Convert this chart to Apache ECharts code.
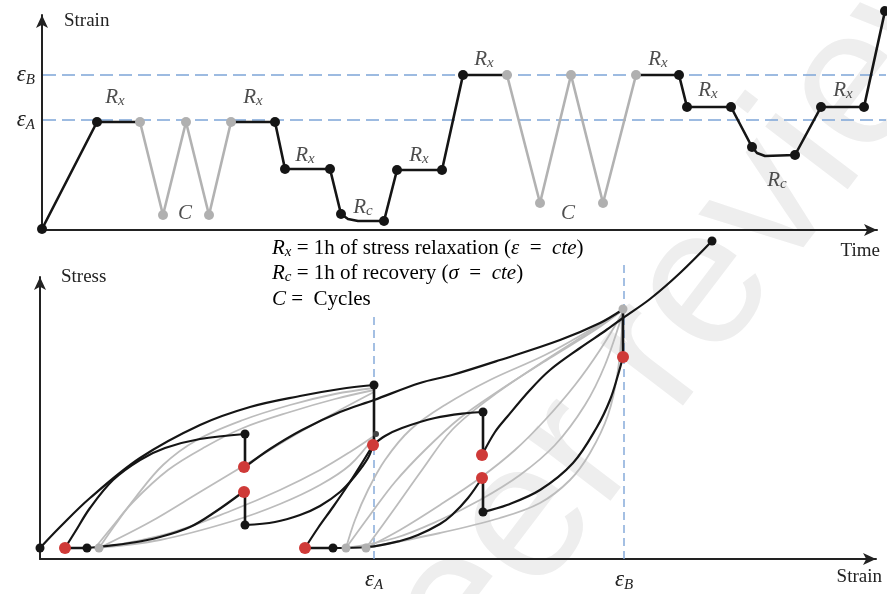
<!DOCTYPE html>
<html><head><meta charset="utf-8">
<script src="https://cdn.jsdelivr.net/npm/echarts@6/dist/echarts.min.js"></script>
<style>html,body{margin:0;padding:0;background:#fff}#c{width:887px;height:594px}</style>
</head><body><div id="c"></div>
<script>
// ===== Top panel: strain vs time =====
const topEpsA = 110, topEpsB = 155;
const topTimeMax = 844;
const loadPath1 = [[0,1],[55,108],[98,108]];
const cyclesAtA = [[98,108],[121,15],[144,108],[167,15],[189,108]];
const loadPath2 = [[189,108],[233,108],[243,61],[288,61],[299,16],[306,11],[316,9],[342,9],[355,60],[400,60],[421,155],[465,155]];
const cyclesAtB = [[465,155],[498,27],[529,155],[561,27],[594,155]];
const loadPath3 = [[594,155],[637,155],[645,123],[689,123],[710,83],[715,77],[723,74],[753,75],[779,123],[822,123],[843,219]];
const topBlackDots = [[0,1],[55,108],[233,108],[243,61],[288,61],[299,16],[342,9],[355,60],[400,60],[421,155],[637,155],[645,123],[689,123],[710,83],[753,75],[779,123],[822,123],[843,219]];
const topGrayDots = [[98,108],[121,15],[144,108],[167,15],[189,108],[465,155],[498,27],[529,155],[561,27],[594,155]];
const topLabels = [[73,133,'Rx'],[211,133,'Rx'],[263,75,'Rx'],[377,75,'Rx'],[442,171,'Rx'],[616,171,'Rx'],[666,140,'Rx'],[801,140,'Rx'],[321,23,'Rc'],[735,50,'Rc'],[143,17,'C'],[526,17,'C']];

// ===== Bottom panel: stress vs strain =====
const botEpsA = 334, botEpsB = 584;
const envelopeA = [[0,11],[20,32],[50,61],[100,101],[160,134],[210,152],[260,163],[300,170],[334,174]];
const reloadB = [[25,11],[35,27],[50,51],[73,79],[100,99],[125,111],[160,120],[205,125]];
const reloadC = [[47,11],[90,16],[120,22],[150,32],[175,47],[203,67]];
const curveD = [[205,92],[230,110],[262,129],[300,147],[334,159],[380,176],[412,184],[460,199],[520,219],[560,236],[582,249]];
const curveE = [[442,104],[455,127],[467,142],[490,169],[510,189],[540,211],[565,228],[583,241],[610,260],[640,286],[672,318]];
const curveF = [[205,34],[235,37],[260,44],[280,53],[300,67],[315,83],[328,101],[333,114]];
const curveH = [[265,11],[278,31],[293,52],[308,74],[322,96],[333,114]];
const curveG = [[333,114],[345,123],[362,131],[395,141],[428,146],[443,147]];
const curveI = [[293,11],[328,12],[360,18],[378,24],[400,35],[412,44],[428,61],[442,81]];
const curveJ = [[443,47],[467,54],[500,69],[533,96],[557,132],[570,159],[578,184],[583,202]];
const relaxSteps = [
  [[205,125],[205,92]], [[205,67],[205,34]], [[334,174],[334,114]],
  [[443,147],[443,104]], [[443,81],[443,47]], [[583,250],[583,202]]
];
const recoverySteps = [[[25,11],[47,11]], [[265,11],[293,11]]];
const cyclesFirst = [
  [[59,11],[75,34],[95,61],[123,94],[157,119],[203,139],[250,154],[295,165],[334,171]],
  [[55,11],[72,32],[93,57],[128,89],[165,112],[203,131],[250,147],[295,160],[334,169]],
  [[59,11],[110,37],[160,67],[210,97],[260,127],[300,149],[334,167]],
  [[59,11],[130,26],[193,49],[240,69],[280,89],[310,107],[334,123]],
  [[55,11],[120,19],[193,38],[240,55],[280,74],[310,94],[334,122]]
];
const cyclesSecond = [
  [[306,11],[315,39],[328,69],[345,99],[370,129],[405,154],[450,179],[505,204],[550,229],[583,249]],
  [[306,11],[330,44],[355,77],[385,109],[420,141],[460,169],[510,201],[555,229],[583,249]],
  [[326,11],[355,51],[382,89],[412,129],[450,161],[495,192],[540,221],[583,249]],
  [[326,11],[360,29],[400,54],[440,81],[475,109],[505,139],[535,174],[560,209],[583,247]],
  [[306,11],[355,21],[400,39],[440,59],[480,84],[515,114],[545,154],[565,194],[583,247]],
  [[326,11],[400,26],[460,41],[500,56],[530,79],[550,106],[568,144],[578,189],[583,247]]
];
const botBlackDots = [[0,11],[47,11],[205,125],[205,34],[334,174],[443,147],[443,47],[293,11],[672,318]];
const botSmallDots = [[336,125]];
const botRedDots = [[25,11],[204,92],[204,67],[333,114],[265,11],[442,104],[442,81],[583,202]];
const botGrayDots = [[59,11],[306,11],[326,11],[583,250]];
const epsALineTop = 242, epsBLineTop = 296;

// ===== styles =====
const BLACK = '#151515', GRAY = '#b2b2b2', RED = '#cf3a38', BLUE = '#7ea5d8';
const MATH = 'Liberation Serif';
const richMath = {
  r: {fontFamily: MATH, fontStyle: 'italic', fontSize: 21, lineHeight: 24, color: '#222'},
  s: {fontFamily: MATH, fontStyle: 'italic', fontSize: 15, lineHeight: 10, verticalAlign: 'bottom', color: '#222'}
};
const richLegend = Object.assign({
  n: {fontFamily: 'Liberation Serif', fontSize: 21, lineHeight: 24, color: '#1a1a1a'}
}, richMath);

// top data drawn on axis pair 2 (same scale as the visible top axes, wider extent)
const TOP = 2, BOT = 1;
function line(gi, data, color, width, opts) {
  return Object.assign({
    type: 'line', xAxisIndex: gi, yAxisIndex: gi, data: data, showSymbol: false, symbol: 'none',
    clip: false, silent: true, z: 3,
    lineStyle: {color: color, width: width, cap: 'round', join: 'round'}
  }, opts || {});
}
function dots(gi, data, color, size, z) {
  return {type: 'scatter', xAxisIndex: gi, yAxisIndex: gi, data: data, symbolSize: size, clip: false,
    silent: true, z: z || 5, itemStyle: {color: color, opacity: 1}};
}

const series = [];
[topEpsA, topEpsB].forEach(v => series.push(line(TOP, [[1, v], [topTimeMax, v]], BLUE, 1.6, {lineStyle: {color: BLUE, width: 1.6, type: [13, 6]}, z: 1})));
series.push(line(TOP, cyclesAtA, GRAY, 2.6));
series.push(line(TOP, cyclesAtB, GRAY, 2.6));
[loadPath1, loadPath2, loadPath3].forEach(p => series.push(line(TOP, p, BLACK, 2.6, {z: 4})));
series.push(dots(TOP, topGrayDots, '#b0b0b0', 10));
series.push(dots(TOP, topBlackDots, BLACK, 10, 6));
series.push({
  type: 'scatter', xAxisIndex: TOP, yAxisIndex: TOP, data: topLabels, symbolSize: 0, silent: true, z: 7,
  label: {show: true, position: 'inside', formatter: p => {
    const t = p.data[2];
    return t === 'C' ? '{r|C}' : '{r|R}{s|' + t.charAt(1) + '}';
  }, rich: richMath}
});

series.push(line(BOT, [[botEpsA, 0], [botEpsA, epsALineTop]], BLUE, 1.4, {lineStyle: {color: BLUE, width: 1.4, type: [8, 5]}, z: 1}));
series.push(line(BOT, [[botEpsB, 0], [botEpsB, epsBLineTop]], BLUE, 1.4, {lineStyle: {color: BLUE, width: 1.4, type: [8, 5]}, z: 1}));
cyclesFirst.concat(cyclesSecond).forEach(p => series.push(line(BOT, p, '#bcbcbc', 1.8, {smooth: 0.35, z: 2})));
[envelopeA, reloadB, reloadC, curveD, curveE, curveF, curveH, curveG, curveI, curveJ].forEach(p =>
  series.push(line(BOT, p, BLACK, 2.2, {smooth: 0.35, z: 4})));
relaxSteps.concat(recoverySteps).forEach(p => series.push(line(BOT, p, BLACK, 2.6, {z: 4})));
series.push(dots(BOT, botGrayDots, '#b0b0b0', 9));
series.push(dots(BOT, botBlackDots, BLACK, 9, 6));
series.push(dots(BOT, botSmallDots, '#444', 6, 6));
series.push(dots(BOT, botRedDots, RED, 12, 7));

const axisLineStyle = {show: true, symbol: ['none', 'arrow'], symbolSize: [9, 13], lineStyle: {color: '#222', width: 2}};
const nameStyle = {fontFamily: 'Liberation Serif', fontSize: 19, color: '#222'};
const epsRich = {
  r: {fontFamily: MATH, fontStyle: 'italic', fontSize: 23, lineHeight: 26, color: '#222'},
  s: {fontFamily: MATH, fontStyle: 'italic', fontSize: 15, lineHeight: 10, verticalAlign: 'bottom', color: '#222'}
};
const hiddenAxis = {axisLine: {show: false}, axisTick: {show: false}, axisLabel: {show: false}, splitLine: {show: false}};

const option = {
  animation: false,
  backgroundColor: '#fff',
  grid: [
    {left: 42, right: 10, top: 15, bottom: 364},
    {left: 40, right: 11, top: 277, bottom: 35},
    {left: 42, right: 1, top: 15, bottom: 364}
  ],
  xAxis: [
    {type: 'value', gridIndex: 0, min: 0, max: 835, axisLine: axisLineStyle, axisTick: {show: false},
     axisLabel: {show: false}, splitLine: {show: false},
     name: 'Time', nameLocation: 'end', nameGap: 3,
     nameTextStyle: Object.assign({align: 'right', verticalAlign: 'top', padding: [12, 0, 0, 0]}, nameStyle)},
    {type: 'value', gridIndex: 1, min: 0, max: 836, axisLine: axisLineStyle, axisTick: {show: false},
     axisLabel: {show: true, customValues: [botEpsA, botEpsB], margin: 8,
       formatter: v => v === botEpsA ? '{r|ε}{s|A}' : '{r|ε}{s|B}', rich: epsRich},
     splitLine: {show: false},
     name: 'Strain', nameLocation: 'end', nameGap: 6,
     nameTextStyle: Object.assign({align: 'right', verticalAlign: 'top', padding: [9, 0, 0, 0]}, nameStyle)},
    Object.assign({type: 'value', gridIndex: 2, min: 0, max: topTimeMax}, hiddenAxis)
  ],
  yAxis: [
    {type: 'value', gridIndex: 0, min: 0, max: 215, axisLine: axisLineStyle, axisTick: {show: false},
     axisLabel: {show: true, customValues: [topEpsA, topEpsB], margin: 7,
       formatter: v => v === topEpsA ? '{r|ε}{s|A}' : '{r|ε}{s|B}', rich: epsRich},
     splitLine: {show: false},
     name: 'Strain', nameLocation: 'end', nameGap: -6,
     nameTextStyle: Object.assign({align: 'left', verticalAlign: 'middle', padding: [0, 0, 0, 22]}, nameStyle)},
    {type: 'value', gridIndex: 1, min: 0, max: 282, axisLine: axisLineStyle, axisTick: {show: false},
     axisLabel: {show: false}, splitLine: {show: false},
     name: 'Stress', nameLocation: 'end', nameGap: 0,
     nameTextStyle: Object.assign({align: 'left', verticalAlign: 'middle', padding: [0, 0, 0, 21]}, nameStyle)},
    Object.assign({type: 'value', gridIndex: 2, min: 0, max: 215}, hiddenAxis)
  ],
  graphic: {elements: [
    {type: 'text', z: -10, silent: true, x: 668, y: 336, rotation: 0.92,
     style: {text: 'peer review', fontFamily: 'Liberation Sans', fontSize: 196, fill: '#eeeeee', align: 'center', verticalAlign: 'middle'}},
    {type: 'text', x: 272, y: 248, silent: true, style: {
      text: '{r|R}{s|x}{n| = 1h of stress relaxation }{n|(}{r|ε}{n|  =  }{r|cte}{n|)}', verticalAlign: 'middle', rich: richLegend}},
    {type: 'text', x: 272, y: 273, silent: true, style: {
      text: '{r|R}{s|c}{n| = 1h of recovery }{n|(}{r|σ}{n|  =  }{r|cte}{n|)}', verticalAlign: 'middle', rich: richLegend}},
    {type: 'text', x: 272, y: 299, silent: true, style: {
      text: '{r|C}{n| =  Cycles}', verticalAlign: 'middle', rich: richLegend}}
  ]},
  series: series
};
const chart = echarts.init(document.getElementById('c'), null, {renderer: 'canvas'});
chart.setOption(option);
</script></body></html>
